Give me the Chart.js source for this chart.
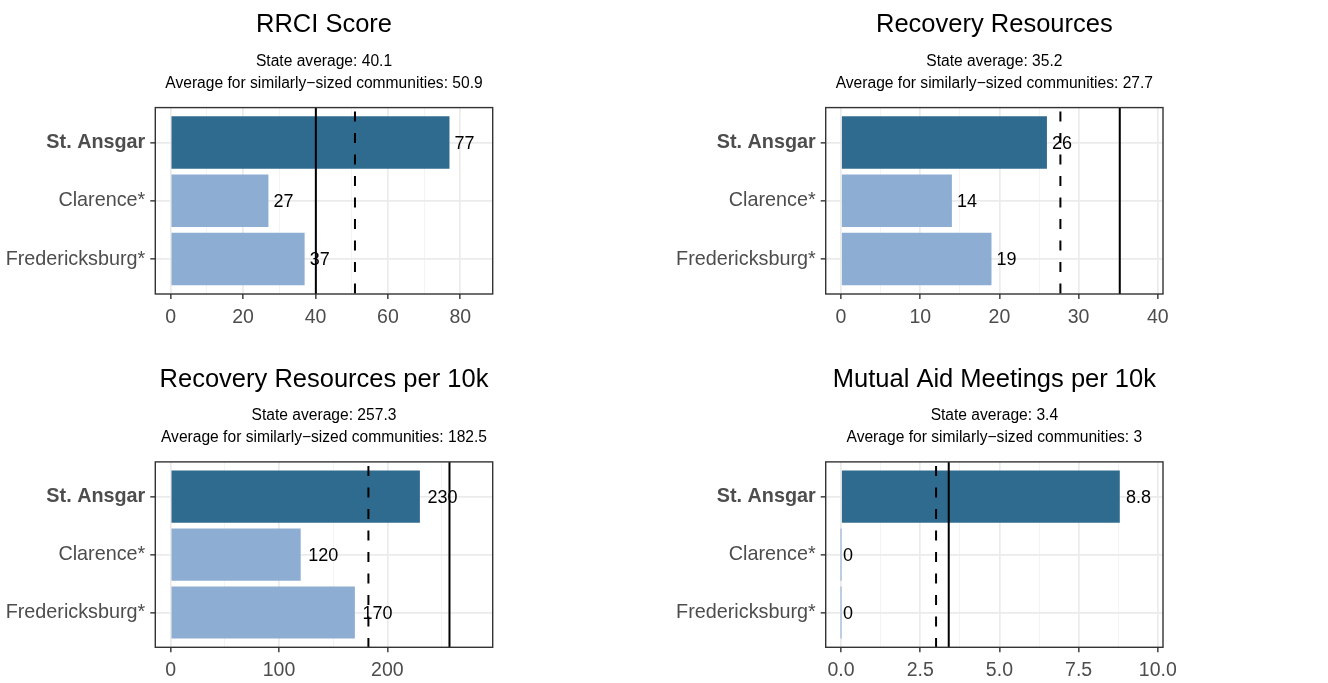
<!DOCTYPE html>
<html>
<head>
<meta charset="utf-8">
<script src="https://cdn.jsdelivr.net/npm/chart.js@4"></script>
<style>
  html, body { margin: 0; padding: 0; background: #fff; }
  body { width: 1328px; height: 683px; position: relative; overflow: hidden; }
  .panel { position: absolute; }
</style>
</head>
<body>
<div class="panel" style="left:0;top:0"><canvas id="c1" width="664" height="340"></canvas></div>
<div class="panel" style="left:664px;top:0"><canvas id="c2" width="664" height="340"></canvas></div>
<div class="panel" style="left:0;top:340px"><canvas id="c3" width="664" height="343"></canvas></div>
<div class="panel" style="left:664px;top:340px"><canvas id="c4" width="664" height="343"></canvas></div>
<script>
// data
const categories = ["St. Ansgar", "Clarence*", "Fredericksburg*"];
const rrciScore = [77, 27, 37];
const recoveryResources = [26, 14, 19];
const resourcesPer10k = [230, 120, 170];
const meetingsPer10k = [8.8, 0, 0];

const titles = ["RRCI Score", "Recovery Resources", "Recovery Resources per 10k", "Mutual Aid Meetings per 10k"];
const stateAvg = [40.1, 35.2, 257.3, 3.4];
const similarAvg = [50.9, 27.7, 182.5, 3];

const ticksRrci = [0, 20, 40, 60, 80];
const ticksResources = [0, 10, 20, 30, 40];
const ticksPer10k = [0, 100, 200];
const ticksMeetings = [0, 2.5, 5, 7.5, 10];

const FONT = "'Liberation Sans', Arial, Helvetica, sans-serif";
const DARK = "#2F6B8F";
const LIGHT = "#8DAED2";

Chart.defaults.font.family = FONT;

// bar value labels, then the two average lines on top
const overlayPlugin = {
  id: "overlay",
  afterDatasetsDraw(chart, args, opts) {
    const ctx = chart.ctx;
    const area = chart.chartArea;
    const meta = chart.getDatasetMeta(0);
    ctx.save();
    ctx.font = "18px " + FONT;
    ctx.fillStyle = "#000";
    ctx.textAlign = "left";
    ctx.textBaseline = "middle";
    meta.data.forEach((bar, i) => {
      const txt = String(chart.data.datasets[0].data[i].x);
      const w = ctx.measureText(txt).width;
      ctx.fillText(txt, bar.x + 0.25 * w, bar.y + 1);
    });
    ctx.beginPath();
    ctx.rect(area.left, area.top, area.right - area.left, area.bottom - area.top);
    ctx.clip();
    const xs = chart.scales.x;
    ctx.strokeStyle = "#000";
    ctx.lineWidth = 2;
    let px = xs.getPixelForValue(opts.state);
    ctx.beginPath();
    ctx.moveTo(px, area.top);
    ctx.lineTo(px, area.bottom);
    ctx.stroke();
    px = xs.getPixelForValue(opts.similar);
    ctx.setLineDash([10, 11.5]);
    ctx.lineDashOffset = -4;
    ctx.beginPath();
    ctx.moveTo(px, area.top);
    ctx.lineTo(px, area.bottom);
    ctx.stroke();
    ctx.restore();
  },
  afterDraw(chart) {
    const ctx = chart.ctx;
    const a = chart.chartArea;
    ctx.save();
    ctx.strokeStyle = "#333333";
    ctx.lineWidth = 1.4;
    ctx.strokeRect(a.left, a.top, a.right - a.left, a.bottom - a.top);
    ctx.restore();
  }
};

function makePanel(id, idx, values, ticks, decimals, box) {
  const top = Math.max(...values, stateAvg[idx], similarAvg[idx]) * 1.1;
  const step = ticks[1] - ticks[0];
  const minors = ticks.map(t => t + step / 2);
  const allTicks = ticks.concat(minors).filter(v => v <= top * 1.05);
  const isMajor = v => ticks.includes(v);

  new Chart(document.getElementById(id), {
    type: "bar",
    data: {
      datasets: [{
        data: values.map((v, i) => ({ x: v, y: i })),
        backgroundColor: values.map((v, i) => (i === 0 ? DARK : LIGHT)),
        borderWidth: 0,
        barPercentage: 0.9,
        categoryPercentage: 1,
        minBarLength: 1
      }]
    },
    options: {
      indexAxis: "y",
      responsive: false,
      animation: false,
      devicePixelRatio: 1,
      layout: { padding: { left: 0, right: box.right, top: box.top, bottom: box.bottom } },
      scales: {
        x: {
          type: "linear",
          min: -0.05 * top,
          max: 1.05 * top,
          afterBuildTicks: s => { s.ticks = allTicks.map(v => ({ value: v })); },
          afterFit: s => { s.height = 34; },
          border: { display: false },
          grid: {
            color: c => (c.tick && isMajor(c.tick.value) ? "#EBEBEB" : "#F3F3F3"),
            lineWidth: c => (c.tick && isMajor(c.tick.value) ? 1.7 : 0.9),
            tickColor: c => (c.tick && isMajor(c.tick.value) ? "#333333" : "rgba(0,0,0,0)"),
            tickLength: 5,
            tickWidth: 1.4
          },
          ticks: {
            autoSkip: false,
            maxRotation: 0,
            padding: 7,
            color: "#4D4D4D",
            font: { size: 19.5 },
            callback: v => (isMajor(v) ? v.toFixed(decimals) : "")
          }
        },
        y: {
          type: "linear",
          reverse: true,
          offset: false,
          min: -0.6,
          max: 2.6,
          afterBuildTicks: s => { s.ticks = categories.map((c, i) => ({ value: i })); },
          afterFit: s => { s.width = box.left; },
          border: { display: false },
          grid: {
            offset: false,
            color: "#EBEBEB",
            lineWidth: 1.7,
            tickColor: "#333333",
            tickLength: 5,
            tickWidth: 1.4
          },
          ticks: {
            autoSkip: false,
            padding: 5,
            color: "#4D4D4D",
            font: c => ({ size: 19.8, weight: c.tick && c.tick.value === 0 ? "bold" : "normal" }),
            callback: v => categories[v]
          }
        }
      },
      plugins: {
        legend: { display: false },
        tooltip: { enabled: false },
        title: {
          display: true,
          text: titles[idx],
          fullSize: false,
          color: "#000",
          font: { size: 25.5, weight: "normal", lineHeight: 1.2 },
          padding: { top: 10, bottom: 10 }
        },
        subtitle: {
          display: true,
          text: [
            "State average: " + stateAvg[idx],
            "Average for similarly\u2212sized communities: " + similarAvg[idx]
          ],
          fullSize: false,
          color: "#000",
          font: { size: 15.6, lineHeight: 1.41 },
          padding: { top: 0, bottom: 13 }
        },
        overlay: { state: stateAvg[idx], similar: similarAvg[idx] }
      }
    },
    plugins: [overlayPlugin]
  });
}

makePanel("c1", 0, rrciScore, ticksRrci, 0, { left: 155.3, right: 171.3, top: 0, bottom: 12 });
makePanel("c2", 1, recoveryResources, ticksResources, 0, { left: 161.7, right: 165, top: 0, bottom: 12 });
makePanel("c3", 2, resourcesPer10k, ticksPer10k, 0, { left: 155.3, right: 171.3, top: 14.3, bottom: 1.7 });
makePanel("c4", 3, meetingsPer10k, ticksMeetings, 1, { left: 161.7, right: 165, top: 14.3, bottom: 1.7 });
</script>
</body>
</html>
